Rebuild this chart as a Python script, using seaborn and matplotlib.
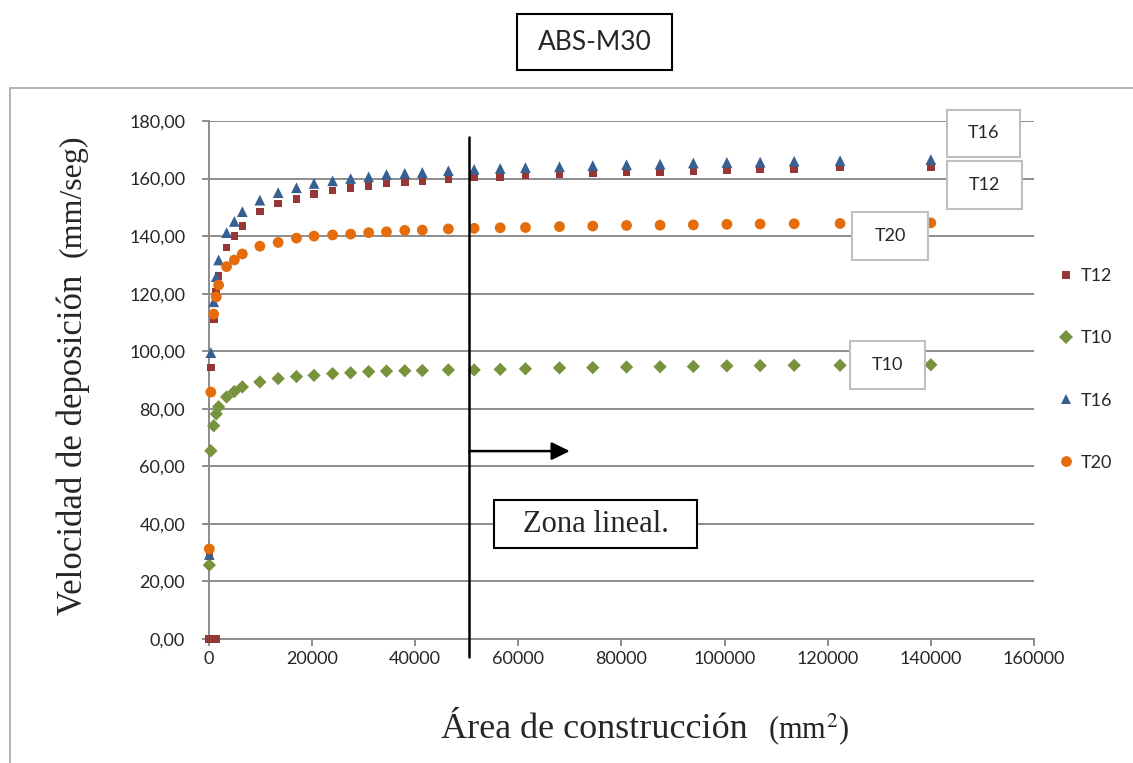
import numpy as np
import pandas as pd
import seaborn as sns
import matplotlib.pyplot as plt
from matplotlib.patches import Rectangle

# Área de construcción (mm2) - shared x values of the four series
area = [100, 400, 950, 1450, 1900, 3450, 4950, 6500, 9900, 13450, 17000,
        20400, 24000, 27500, 31000, 34450, 38000, 41400, 46450, 51450,
        56500, 61400, 68000, 74450, 81000, 87500, 93950, 100450, 106900,
        113500, 122400, 140000]

# Velocidad de deposición (mm/seg)
t12 = [28.7, 94.3, 111.2, 120.7, 126.2, 136.0, 140.0, 143.6, 148.5, 151.3,
       153.0, 154.7, 155.9, 156.8, 157.5, 158.3, 158.9, 159.2, 159.8, 160.4,
       160.6, 161.1, 161.4, 161.8, 162.1, 162.3, 162.7, 162.8, 163.1, 163.4,
       163.8, 164.1]
t10 = [25.7, 65.4, 74.1, 78.2, 80.7, 84.1, 86.0, 87.6, 89.3, 90.5, 91.2,
       91.6, 92.2, 92.5, 92.9, 93.1, 93.2, 93.3, 93.5, 93.5, 93.7, 93.9,
       94.2, 94.3, 94.5, 94.6, 94.7, 94.9, 95.0, 95.1, 95.1, 95.3]
t16 = [29.4, 99.5, 117.2, 125.9, 131.7, 141.2, 145.1, 148.5, 152.5, 155.1,
       156.8, 158.3, 159.2, 160.0, 160.6, 161.4, 161.8, 162.1, 162.7, 163.2,
       163.5, 163.8, 164.1, 164.5, 164.8, 165.0, 165.4, 165.6, 165.7, 166.0,
       166.2, 166.6]
t20 = [31.3, 85.8, 112.9, 118.9, 123.0, 129.4, 131.7, 133.8, 136.5, 137.8,
       139.3, 140.0, 140.4, 140.7, 141.2, 141.5, 142.0, 142.1, 142.5, 142.7,
       142.9, 143.0, 143.3, 143.5, 143.7, 143.8, 143.9, 144.1, 144.2, 144.3,
       144.4, 144.6]

# two extra zero readings of T12 near the origin
t12_zero_area = [0, 1450]
t12_zero_vel = [0.0, 0.0]

series = ["T12", "T10", "T16", "T20"]
y_ticks = [0, 20, 40, 60, 80, 100, 120, 140, 160, 180]
y_labels = ["0,00", "20,00", "40,00", "60,00", "80,00", "100,00", "120,00",
            "140,00", "160,00", "180,00"]
x_ticks = [0, 20000, 40000, 60000, 80000, 100000, 120000, 140000, 160000]
x_labels = [str(v) for v in x_ticks]
linear_zone_start = 50500

# build long table for seaborn
df = pd.concat([
    pd.DataFrame({"area": area + t12_zero_area, "vel": t12 + t12_zero_vel, "serie": "T12"}),
    pd.DataFrame({"area": area, "vel": t10, "serie": "T10"}),
    pd.DataFrame({"area": area, "vel": t16, "serie": "T16"}),
    pd.DataFrame({"area": area, "vel": t20, "serie": "T20"}),
], ignore_index=True)

palette = {"T12": "#953735", "T10": "#77933C", "T16": "#376092", "T20": "#E46C0A"}
markers = {"T12": "s", "T10": "D", "T16": "^", "T20": "o"}
sizes = {"T12": 30, "T10": 46, "T16": 60, "T20": 60}

sns.set_style("white")
plt.rcParams["font.family"] = ["Lato", "DejaVu Sans"]
plt.rcParams["mathtext.fontset"] = "stix"

W, H = 1133, 763
fig = plt.figure(figsize=(W / 100, H / 100), dpi=100)


def fx(px):
    return px / W


def fy(py):
    return 1 - py / H


ax = fig.add_axes([fx(208.8), fy(639), (1034 - 208.8) / W, (639 - 121) / H])

sns.scatterplot(data=df, x="area", y="vel", hue="serie", style="serie", size="serie",
                hue_order=series, style_order=series, size_order=series,
                palette=palette, markers=markers, sizes=sizes,
                linewidth=0, ax=ax, zorder=3, clip_on=False)

ax.set_xlim(0, 160000)
ax.set_ylim(0, 180)
ax.set_yticks(y_ticks)
ax.set_yticklabels(y_labels)
ax.set_xticks(x_ticks)
ax.set_xticklabels(x_labels)
ax.set_xlabel("")
ax.set_ylabel("")

grid_c = "#8c8c8c"
ax.yaxis.grid(True, color=grid_c, lw=1.4)
ax.xaxis.grid(False)
for side in ["top", "right"]:
    ax.spines[side].set_visible(False)
for side in ["left", "bottom"]:
    ax.spines[side].set_color(grid_c)
    ax.spines[side].set_linewidth(1.4)
ax.tick_params(axis="y", length=5, width=1.4, color=grid_c, pad=12, labelsize=13, left=True)
ax.tick_params(axis="x", length=5, width=1.4, color=grid_c, pad=4, labelsize=13, bottom=True)
ax.set_axisbelow(True)

# legend on the right
handles, labels = ax.get_legend_handles_labels()
ax.legend(handles, labels, loc="center left", bbox_to_anchor=(fx(1057), fy(369.5)),
          bbox_transform=fig.transFigure, frameon=False, fontsize=13,
          labelspacing=2.55, handlelength=1.0, handletextpad=0.3,
          borderpad=0, borderaxespad=0)

# linear zone marker and arrow
ax.plot([linear_zone_start, linear_zone_start], [174.4, -6.3], color="black",
        lw=1.8, clip_on=False, zorder=6)
ax.annotate("", xy=(70000, 65.3), xytext=(linear_zone_start, 65.3),
            arrowprops=dict(arrowstyle="-|>,head_length=0.55,head_width=0.27",
                            color="black", lw=1.8, mutation_scale=20,
                            shrinkA=0, shrinkB=0), zorder=6)


def box(x0, y0, x1, y1, text, ec, lw, size, family, zorder=8):
    fig.add_artist(Rectangle((fx(x0), fy(y1)), (x1 - x0) / W, (y1 - y0) / H,
                             transform=fig.transFigure, facecolor="white",
                             edgecolor=ec, lw=lw, zorder=zorder))
    fig.text(fx((x0 + x1) / 2), fy((y0 + y1) / 2), text, ha="center", va="center",
             fontsize=size, family=family, zorder=zorder + 1)


# outer chart frame
fig.add_artist(Rectangle((fx(10), fy(775)), (1150 - 10) / W, (775 - 88) / H,
                         transform=fig.transFigure, facecolor="none",
                         edgecolor="#a6a6a6", lw=1.2, zorder=1))

box(517, 14, 672, 70, "ABS-M30", "black", 1.5, 19, ["Lato", "DejaVu Sans"])
box(947, 110, 1020, 157, "T16", "#bfbfbf", 1.5, 13, ["Lato", "DejaVu Sans"])
box(947, 161, 1022, 209, "T12", "#bfbfbf", 1.5, 13, ["Lato", "DejaVu Sans"])
box(852, 212, 928, 260, "T20", "#bfbfbf", 1.5, 13, ["Lato", "DejaVu Sans"])
box(850, 341, 925, 389, "T10", "#bfbfbf", 1.5, 13, ["Lato", "DejaVu Sans"])
box(494, 500, 697, 548, "Zona lineal.", "black", 1.5, 22, ["Liberation Serif", "DejaVu Serif"])

# axis titles
serif = ["Liberation Serif", "DejaVu Serif"]
fig.text(fx(82), fy(615), "Velocidad de deposición", rotation=90, rotation_mode="anchor",
         ha="left", va="baseline", fontsize=25, family=serif)
fig.text(fx(81), fy(257), "(mm/seg)", rotation=90, rotation_mode="anchor",
         ha="left", va="baseline", fontsize=23, family=serif)
fig.text(fx(441), fy(738), "Área de construcción", ha="left", va="baseline",
         fontsize=26, family=serif)
fig.text(fx(768), fy(738), "(mm$^{2}$)", ha="left", va="baseline",
         fontsize=22, family=serif)

fig.savefig("out.png", dpi=100)
